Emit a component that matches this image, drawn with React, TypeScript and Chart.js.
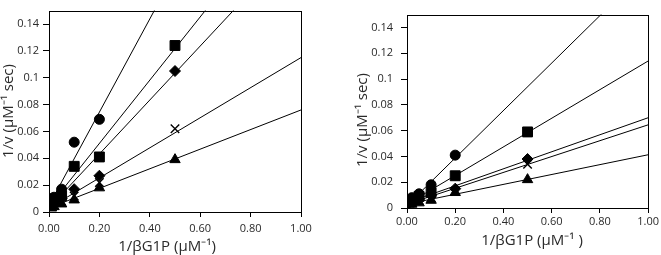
import React, { useEffect, useRef } from "react";
import { Chart, registerables } from "chart.js";
Chart.register(...registerables);

// x values: 1/[βG1P] (µM⁻¹)
const xValues = [0.01, 0.02, 0.05, 0.1, 0.2, 0.5];

// Left panel series (1/v)
const leftCircle = [0.010, 0.011, 0.017, 0.052, 0.069, null];
const leftSquare = [0.006, 0.008, 0.012, 0.034, 0.041, 0.124];
const leftDiamond = [0.005, 0.006, 0.010, 0.017, 0.027, 0.105];
const leftCross = [0.004, 0.005, 0.008, 0.012, 0.022, 0.062];
const leftTriangle = [0.003, 0.004, 0.006, 0.009, 0.018, 0.039];

// Right panel series (1/v)
const rightCircle = [0.006, 0.008, 0.011, 0.018, 0.041, null];
const rightSquare = [0.005, 0.006, 0.009, 0.012, 0.025, 0.059];
const rightDiamond = [0.004, 0.005, 0.007, 0.010, 0.015, 0.038];
const rightCross = [0.004, 0.004, 0.006, 0.008, 0.013, 0.034];
const rightTriangle = [0.003, 0.003, 0.004, 0.006, 0.012, 0.022];

// Trend lines: value at x = 0 and at x = 1 (circle, square, diamond, cross, triangle)
const lineX = [0, 1];
const leftLineStart = [0.005, 0.004, 0.003, 0.003, 0.003];
const leftLineEnd = [0.352, 0.2395, 0.204, 0.115, 0.076];
const rightLineStart = [0.002, 0.003, 0.004, 0.003, 0.003];
const rightLineEnd = [0.186, 0.114, 0.070, 0.0645, 0.0413];

const markerStyles = ["circle", "rect", "rectRot", "crossRot", "triangle"];
const markerRadius = [5, 7, 5.5, 6, 6];

const TEXT = "#2a2a2a";
const FONT = "Open Sans";

const framePlugin = {
  id: "frame",
  afterDraw(chart: any, _args: any, opts: any) {
    const { ctx, chartArea: a } = chart;
    ctx.save();
    ctx.strokeStyle = "#000";
    ctx.lineWidth = 1;
    const l = Math.round(a.left) + 0.5;
    const t = Math.round(a.top) + 0.5;
    const r = Math.round(a.right) + 0.5;
    const b = Math.round(a.bottom) + 0.5;
    ctx.strokeRect(l, t, r - l, b - t);
    ctx.fillStyle = TEXT;
    ctx.font = `${opts.size}px "${FONT}"`;
    ctx.textAlign = "center";
    ctx.textBaseline = "middle";
    ctx.fillText(opts.xTitle, opts.xTitleX, opts.xTitleY);
    ctx.translate(opts.yTitleX, opts.yTitleY);
    ctx.rotate(-Math.PI / 2);
    ctx.fillText(opts.yTitle, 0, 0);
    ctx.restore();
  },
};

type PanelCfg = {
  series: (number | null)[][];
  lineStart: number[];
  lineEnd: number[];
  yAxisWidth: number;
  xAxisHeight: number;
  padding: { left: number; right: number; top: number; bottom: number };
  yTickPad: number;
  xTickPad: number;
  titles: any;
};

function buildConfig(p: PanelCfg): any {
  const datasets: any[] = [];
  p.series.forEach((s, i) => {
    datasets.push({
      type: "line",
      data: lineX.map((x, k) => ({ x, y: k === 0 ? p.lineStart[i] : p.lineEnd[i] })),
      borderColor: "#000",
      borderWidth: 1,
      pointRadius: 0,
      showLine: true,
      fill: false,
      order: 2,
    });
  });
  p.series.forEach((s, i) => {
    const pts = xValues
      .map((x, k) => ({ x, y: s[k] }))
      .filter((d) => d.y !== null);
    datasets.push({
      type: "scatter",
      data: pts,
      pointStyle: markerStyles[i],
      pointRadius: markerRadius[i],
      pointBackgroundColor: "#000",
      pointBorderColor: "#000",
      pointBorderWidth: markerStyles[i] === "crossRot" ? 1.4 : 1,
      showLine: false,
      order: 1,
    });
  });
  return {
    type: "scatter",
    data: { datasets },
    plugins: [framePlugin],
    options: {
      animation: false,
      responsive: false,
      events: [],
      layout: { padding: p.padding },
      plugins: {
        legend: { display: false },
        tooltip: { enabled: false },
        frame: p.titles,
      },
      scales: {
        x: {
          type: "linear",
          min: 0,
          max: 1,
          afterFit: (s: any) => {
            s.height = p.xAxisHeight;
          },
          ticks: {
            stepSize: 0.2,
            color: TEXT,
            font: { family: FONT, size: 11 },
            padding: p.xTickPad,
            maxRotation: 0,
            callback: (v: any) => Number(v).toFixed(2),
          },
          grid: { drawOnChartArea: false, drawTicks: true, tickLength: 5, color: "#000" },
          border: { display: false },
        },
        y: {
          type: "linear",
          min: 0,
          max: 0.15,
          afterFit: (s: any) => {
            s.width = p.yAxisWidth;
          },
          ticks: {
            stepSize: 0.02,
            includeBounds: false,
            color: TEXT,
            font: { family: FONT, size: 11 },
            padding: p.yTickPad,
            callback: (v: any) => String(Number(Number(v).toFixed(2))),
          },
          grid: { drawOnChartArea: false, drawTicks: true, tickLength: 6, color: "#000" },
          border: { display: false },
        },
      },
    },
  };
}

function Panel({ cfg, width, left }: { cfg: PanelCfg; width: number; left: number }) {
  const ref = useRef<HTMLCanvasElement | null>(null);
  useEffect(() => {
    if (!ref.current) return;
    const chart = new Chart(ref.current, buildConfig(cfg));
    return () => chart.destroy();
  }, []);
  return (
    <div style={{ position: "absolute", left, top: 0, width, height: 255 }}>
      <canvas ref={ref} width={width} height={255} style={{ width, height: 255, display: "block" }} />
    </div>
  );
}

const leftCfg: PanelCfg = {
  series: [leftCircle, leftSquare, leftDiamond, leftCross, leftTriangle],
  lineStart: leftLineStart,
  lineEnd: leftLineEnd,
  yAxisWidth: 49,
  xAxisHeight: 43,
  padding: { left: 0, right: 29, top: 5, bottom: 0 },
  yTickPad: 4,
  xTickPad: 5,
  titles: {
    size: 15,
    xTitle: "1/βG1P (µM⁻¹)",
    xTitleX: 167,
    xTitleY: 247,
    yTitle: "1/v (µM⁻¹ sec)",
    yTitleX: 9,
    yTitleY: 111,
  },
};

const rightCfg: PanelCfg = {
  series: [rightCircle, rightSquare, rightDiamond, rightCross, rightTriangle],
  lineStart: rightLineStart,
  lineEnd: rightLineEnd,
  yAxisWidth: 77,
  xAxisHeight: 47,
  padding: { left: 0, right: 11, top: 2, bottom: 0 },
  yTickPad: 8,
  xTickPad: 2,
  titles: {
    size: 15,
    xTitle: "1/βG1P (µM⁻¹ )",
    xTitleX: 202,
    xTitleY: 241,
    yTitle: "1/v (µM⁻¹ sec)",
    yTitleX: 33,
    yTitleY: 120,
  },
};

export default function App() {
  return (
    <div style={{ position: "fixed", left: 0, top: 0, width: 661, height: 255, background: "#fff" }}>
      <Panel cfg={leftCfg} width={330} left={0} />
      <Panel cfg={rightCfg} width={331} left={330} />
    </div>
  );
}
